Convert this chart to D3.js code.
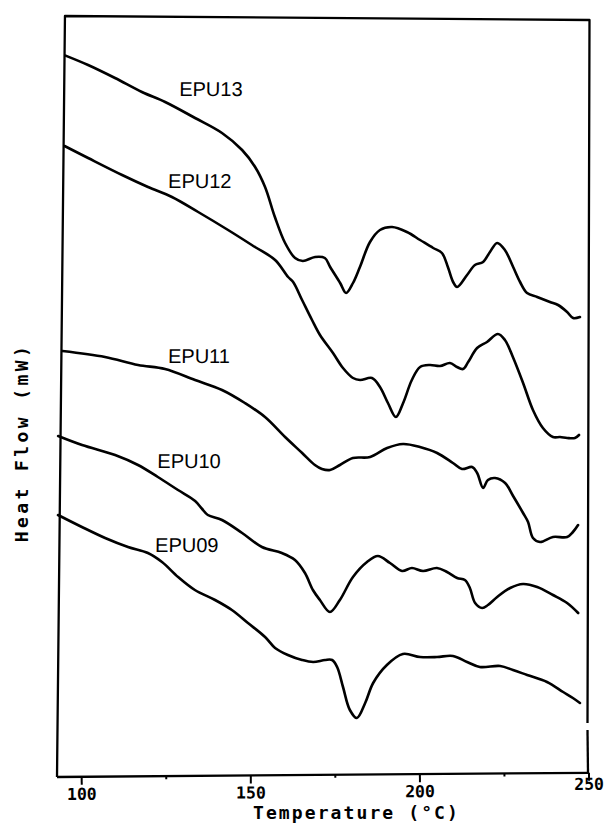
<!DOCTYPE html>
<html>
<head>
<meta charset="utf-8">
<script src="https://cdn.jsdelivr.net/npm/d3@7"></script>
<style>
  body { margin: 0; background: #fff; }
  svg { display: block; }
</style>
</head>
<body>
<svg id="chart" width="607" height="823"></svg>
<script>
// DSC thermograms: [temperature (°C), heat flow (arbitrary mW offset)]
const EPU13 = [[93.0,35.92],[99.7,35.45],[107.7,34.8],[115.7,34.1],[122.6,33.6],[131.5,32.8],[139.5,32.05],[145.5,31.2],[149.4,30.35],[152.4,29.35],[155.4,27.85],[158.5,26.55],[161.5,25.8],[163.8,25.65],[167.4,25.85],[170.3,25.8],[171.9,25.35],[174.9,24.55],[176.7,24.05],[178.7,24.55],[180.7,25.35],[183.6,26.6],[186.5,27.2],[190.1,27.35],[194.5,27.1],[198.4,26.7],[202.3,26.3],[204.9,26.05],[206.7,25.35],[208.3,24.6],[209.5,24.35],[212.4,24.95],[214.7,25.45],[217.1,25.6],[219.1,26.1],[221.2,26.55],[223.5,26.2],[226.0,25.35],[228.1,24.6],[230.2,24.05],[233.2,23.85],[237.0,23.6],[239.4,23.45],[242.1,23.1],[243.9,22.8],[245.9,22.85]];

const EPU12 = [[93.0,31.4],[100.0,30.8],[110.1,29.95],[117.8,29.35],[124.9,28.85],[132.7,28.1],[141.6,27.2],[149.6,26.35],[155.6,25.7],[159.5,24.85],[161.0,24.6],[163.7,23.7],[166.7,22.7],[169.1,21.95],[173.0,21.05],[176.0,20.3],[179.0,19.8],[181.1,19.7],[184.6,19.8],[187.0,19.35],[189.4,18.55],[191.8,17.85],[193.9,18.55],[196.4,19.7],[198.8,20.35],[201.7,20.45],[204.7,20.4],[207.6,20.55],[209.7,20.35],[211.5,20.25],[213.0,20.6],[215.6,21.3],[218.5,21.6],[221.7,22.0],[223.8,21.7],[226.2,20.85],[229.3,19.55],[232.3,18.2],[235.3,17.3],[238.3,16.85],[240.4,16.85],[242.5,16.8],[244.8,16.8],[246.0,16.95]];

const EPU11 = [[93.0,21.15],[105.6,20.85],[115.4,20.45],[123.4,20.25],[132.3,19.7],[140.3,19.2],[147.1,18.55],[153.1,17.85],[159.1,16.85],[164.2,16.05],[168.0,15.45],[170.1,15.25],[172.5,15.2],[175.4,15.45],[179.2,15.8],[184.3,15.85],[189.3,16.3],[194.0,16.5],[199.0,16.35],[204.1,16.05],[208.8,15.55],[211.5,15.25],[214.5,15.35],[216.0,15.05],[217.8,14.3],[219.2,14.7],[221.3,14.8],[224.3,14.55],[226.7,13.9],[229.7,13.05],[231.2,12.6],[232.7,11.8],[234.8,11.6],[238.6,11.85],[242.8,11.85],[244.5,12.1],[246.0,12.45]];

const EPU10 = [[92.0,16.9],[99.1,16.45],[108.9,15.95],[115.7,15.45],[121.6,14.85],[127.6,14.2],[132.7,13.65],[134.8,13.25],[136.5,12.95],[140.7,12.7],[146.7,12.05],[152.6,11.35],[158.5,11.05],[162.4,10.7],[165.4,10.05],[167.8,9.2],[169.9,8.7],[172.9,8.1],[175.8,8.7],[179.6,9.85],[183.7,10.6],[186.9,10.9],[190.5,10.55],[194.1,10.15],[197.0,10.3],[200.3,10.15],[204.4,10.3],[207.4,10.1],[210.4,9.8],[212.7,9.7],[214.2,9.3],[215.8,8.55],[217.9,8.3],[219.6,8.45],[222.3,8.85],[226.1,9.3],[229.9,9.5],[234.1,9.35],[238.8,8.95],[243.0,8.55],[246.3,8.05]];

const EPU09 = [[92.2,12.95],[99.3,12.35],[106.2,11.8],[113.0,11.35],[118.9,11.05],[123.1,10.6],[127.9,9.85],[132.9,9.2],[138.9,8.7],[143.9,8.2],[148.7,7.55],[153.8,6.85],[156.8,6.3],[160.6,5.95],[164.8,5.7],[168.1,5.6],[171.6,5.7],[173.7,5.7],[175.2,5.35],[177.0,4.35],[179.1,3.2],[181.2,2.8],[183.6,3.55],[185.9,4.55],[189.9,5.45],[194.6,6.0],[199.7,5.85],[204.7,5.85],[209.4,5.9],[213.6,5.6],[217.4,5.35],[223.4,5.4],[227.2,5.2],[231.4,4.95],[237.3,4.6],[242.1,4.1],[245.0,3.8],[247.1,3.55]];

const seriesNames = ["EPU13", "EPU12", "EPU11", "EPU10", "EPU09"];
const seriesData = [EPU13, EPU12, EPU11, EPU10, EPU09];
// curve label anchors [temperature, heat flow]
const labelPos = [[136.1,34.28],[133.1,29.68],[133.4,20.9],[130.8,15.65],[130.4,11.45]];

const majorTicks = [100, 150, 200, 250];
const minorTicks = [125, 175, 225];
const xTitle = "Temperature (°C)";
const yTitle = "Heat Flow (mW)";

const svg = d3.select("#chart");
const W = 607, H = 823;
svg.append("rect").attr("width", W).attr("height", H).attr("fill", "#fff");

const x = d3.scaleLinear().domain([93, 250]).range([58, 589]);
const y = d3.scaleLinear().domain([0, 37.9]).range([774, 16]);

const monoFont = "'DejaVu Sans Mono', monospace";
const lean = 0.0105 * (y.range()[0] - y.range()[1]);   // left edge lean of the plotted frame

// frame: left, top and right edges (right edge has a small pen gap near the bottom)
const frame = svg.append("g").attr("fill", "none").attr("stroke", "#000")
  .attr("stroke-width", 2.3).attr("stroke-linejoin", "round");
const x0 = x.range()[0] - 1, x1 = x.range()[1];
frame.append("path").attr("d", d3.line()([
  [x0, y.range()[0] + 3],
  [x0 + lean, y.range()[1]],
  [x1 + 0.5, y.range()[1] + 4],
  [x1 - 1.5, y(2.55)]
]));
frame.append("path").attr("d", d3.line()([
  [x1 - 1.5, y(2.2)],
  [x1 - 1, y.range()[0] - 1]
]));

// bottom axis
const axisG = svg.append("g")
  .attr("transform", `translate(0,${y.range()[0] + 3}) rotate(-0.45,${x0},0)`);
axisG.append("line").attr("x1", x0).attr("x2", x1).attr("stroke", "#000").attr("stroke-width", 2.3);
axisG.selectAll(".major").data(majorTicks).join("line")
  .attr("x1", d => x(d)).attr("x2", d => x(d)).attr("y1", 0).attr("y2", 8)
  .attr("stroke", "#000").attr("stroke-width", 2);
axisG.selectAll(".minor").data(minorTicks).join("line")
  .attr("x1", d => x(d)).attr("x2", d => x(d)).attr("y1", 0).attr("y2", 3)
  .attr("stroke", "#000").attr("stroke-width", 2);
axisG.selectAll(".tlab").data(majorTicks).join("text")
  .attr("x", d => x(d)).attr("y", d => 23 - (d === 250 ? 6 : 0))
  .attr("text-anchor", "middle")
  .attr("font-family", monoFont).attr("font-weight", "bold").attr("font-size", 16.5)
  .text(d => d);

// axis titles
svg.append("text")
  .attr("x", 253).attr("y", 819)
  .attr("font-family", monoFont).attr("font-weight", "bold").attr("font-size", 18)
  .attr("letter-spacing", 2.1)
  .text(xTitle);
svg.append("text")
  .attr("transform", `translate(28,442.5) rotate(-90)`)
  .attr("text-anchor", "middle")
  .attr("font-family", monoFont).attr("font-weight", "bold").attr("font-size", 18)
  .attr("letter-spacing", 3.4)
  .text(yTitle);

// plotted traces share the frame's lean
const base = y.range()[0];
const plot = svg.append("g")
  .attr("transform", `translate(0,${base}) skewX(-0.6) translate(0,${-base})`);

const line = d3.line()
  .x(d => x(d[0])).y(d => y(d[1]))
  .curve(d3.curveCatmullRom.alpha(0.5));

plot.selectAll("path.trace").data(seriesData).join("path")
  .attr("class", "trace")
  .attr("d", line)
  .attr("fill", "none").attr("stroke", "#000")
  .attr("stroke-width", 2.6).attr("stroke-linejoin", "round").attr("stroke-linecap", "round");

plot.selectAll("text.lab").data(seriesNames).join("text")
  .attr("class", "lab")
  .attr("x", (d, i) => x(labelPos[i][0]))
  .attr("y", (d, i) => y(labelPos[i][1]))
  .attr("dy", "0.36em")
  .attr("text-anchor", "middle")
  .attr("font-family", "'Liberation Sans', Arial, sans-serif")
  .attr("font-size", 20)
  .attr("fill", "#000")
  .text(d => d);
</script>
</body>
</html>
